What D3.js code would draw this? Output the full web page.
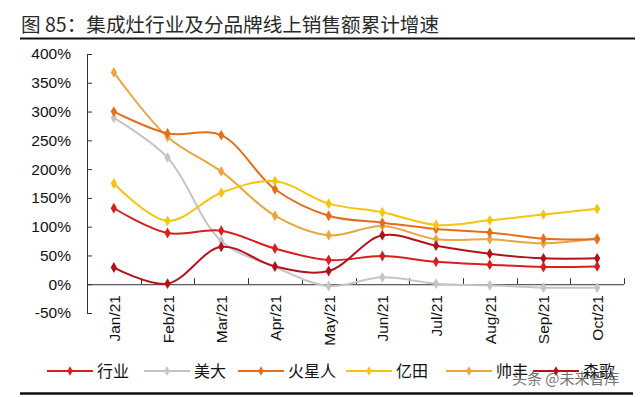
<!DOCTYPE html>
<html lang="zh">
<head>
<meta charset="UTF-8"/>
<title>集成灶行业及分品牌线上销售额累计增速</title>
<script src="https://d3js.org/d3.v7.min.js"></script>
<style>
	body { margin:0; background:#fff; }
	text { font-family: "Liberation Sans", Arial, sans-serif; }
	.cjk { font-family: "Noto Sans CJK SC", sans-serif; }
</style>
</head>
<body>
<script>
	var w = 640;
	var h = 397;

	// ---------- data ----------
	var months = ["Jan/21","Feb/21","Mar/21","Apr/21","May/21","Jun/21","Jul/21","Aug/21","Sep/21","Oct/21"];
	var yTicks = [-50,0,50,100,150,200,250,300,350,400];
	var seriesNames = ["行业","美大","火星人","亿田","帅丰","森歌"];
	var seriesColors = ["#d81e1e","#c4c4c4","#e46d1f","#f6c40c","#e9a640","#b4121a"];

	var hangye   = [132, 89, 93, 62, 42, 49, 39, 34, 30, 31];
	var meida    = [289, 220, 75, 30, -3, 12, 1, -2, -6, -6];
	var huoxing  = [300, 262, 259, 165, 119, 107, 96, 90, 79, 78];
	var yitian   = [175, 110, 159, 179, 140, 125, 103, 111, 121, 131];
	var shuaifeng= [368, 256, 196, 119, 85, 101, 78, 78, 71, 80];
	var senge    = [29, 1, 65, 31, 23, 85, 67, 53, 45, 45];

	var allSeries = [hangye, meida, huoxing, yitian, shuaifeng, senge];
	// draw order (back to front)
	var drawOrder = [1, 4, 2, 3, 0, 5];

	var svg = d3.select("body")
				.append("svg")
				.attr("width", w)
				.attr("height", h);

	//-------title---------
	svg.append("text")
		.attr("class","cjk")
		.attr("x", 21)
		.attr("y", 32)
		.attr("font-size", 19.6)
		.attr("fill", "#2a2a2a")
		.text("图 85：集成灶行业及分品牌线上销售额累计增速");

	svg.append("line")
		.attr("x1", 20).attr("x2", 635)
		.attr("y1", 38.5).attr("y2", 38.5)
		.attr("stroke", "#111").attr("stroke-width", 2);

	svg.append("line")
		.attr("x1", 20).attr("x2", 633)
		.attr("y1", 393.5).attr("y2", 393.5)
		.attr("stroke", "#111").attr("stroke-width", 2.5);

	//-------scales---------
	var xScale = d3.scaleBand()
				.domain(months)
				.range([87, 624]);

	var yScale = d3.scaleLinear()
				.domain([-50, 400])
				.range([313, 54]);

	//-------y axis---------
	var yAxis = d3.axisLeft(yScale)
				.tickValues(yTicks)
				.tickSize(-5)
				.tickPadding(16)
				.tickFormat(function(d){ return d + "%"; });

	var gy = svg.append("g")
		.attr("transform", "translate(87,0)")
		.call(yAxis);
	gy.select(".domain").attr("stroke", "#333").attr("d", "M5,54.5H0.5V313.5H5");
	gy.selectAll(".tick line").attr("stroke", "#333");
	gy.selectAll("text")
		.attr("font-size", 15.5)
		.attr("fill", "#111")
		.attr("font-family", "Liberation Sans, Arial, sans-serif");

	//-------x axis (at 0%)---------
	var xAxis = d3.axisBottom(xScale).tickSize(0).tickFormat("");
	var gx = svg.append("g")
		.attr("transform", "translate(0," + yScale(0) + ")")
		.call(xAxis);
	gx.select(".domain").attr("stroke", "#333").attr("d", "M87,0.5H624");

	// tick marks between categories
	svg.selectAll(".xtick")
		.data(months.concat(["end"]))
		.enter()
		.append("line")
		.attr("class","xtick")
		.attr("x1", function(d,i){ return Math.round(87 + i * xScale.bandwidth()) + 0.5; })
		.attr("x2", function(d,i){ return Math.round(87 + i * xScale.bandwidth()) + 0.5; })
		.attr("y1", yScale(0))
		.attr("y2", yScale(0) - 6)
		.attr("stroke", "#333");

	svg.selectAll(".xlabel")
		.data(months)
		.enter()
		.append("text")
		.attr("class","xlabel")
		.attr("font-size", 15.5)
		.attr("fill", "#111")
		.attr("text-anchor", "end")
		.attr("transform", function(d){
			var x = xScale(d) + xScale.bandwidth() / 2 + 6;
			return "translate(" + x + ",295) rotate(-90)";
		})
		.text(function(d){ return d; });

	//-------lines---------
	var line = d3.line()
				.x(function(d,i){ return xScale(months[i]) + xScale.bandwidth() / 2; })
				.y(function(d){ return yScale(d); })
				.curve(d3.curveCatmullRom.alpha(0.5));

	var diamond = d3.symbol().type(d3.symbolDiamond).size(34);

	drawOrder.forEach(function(k){
		var g = svg.append("g");
		g.append("path")
			.datum(allSeries[k])
			.attr("d", line)
			.attr("fill", "none")
			.attr("stroke", seriesColors[k])
			.attr("stroke-width", 2);
		g.selectAll("path.pt")
			.data(allSeries[k])
			.enter()
			.append("path")
			.attr("class","pt")
			.attr("d", diamond)
			.attr("fill", seriesColors[k])
			.attr("transform", function(d,i){
				return "translate(" + (xScale(months[i]) + xScale.bandwidth() / 2) + "," + yScale(d) + ")";
			});
	});

	//-------legend---------
	var legendX = [47, 144, 238, 346, 446, 533];
	var legend = svg.selectAll(".legend")
		.data(seriesNames)
		.enter()
		.append("g")
		.attr("class","legend")
		.attr("transform", function(d,i){ return "translate(" + legendX[i] + ",371)"; });

	legend.append("line")
		.attr("x1", 0).attr("x2", 46)
		.attr("y1", 0).attr("y2", 0)
		.attr("stroke", function(d,i){ return seriesColors[i]; })
		.attr("stroke-width", 2);
	legend.append("path")
		.attr("d", d3.symbol().type(d3.symbolDiamond).size(26))
		.attr("transform", "translate(23,0)")
		.attr("fill", function(d,i){ return seriesColors[i]; });
	legend.append("text")
		.attr("class","cjk")
		.attr("x", 50)
		.attr("y", 6)
		.attr("font-size", 16)
		.attr("fill", "#111")
		.text(function(d){ return d; });

	//-------watermark---------
	svg.append("text")
		.attr("class","cjk")
		.attr("x", 512)
		.attr("y", 384)
		.attr("font-size", 15)
		.attr("fill", "#444")
		.attr("opacity", 0.75)
		.text("头条 @未来智库");
</script>
</body>
</html>
